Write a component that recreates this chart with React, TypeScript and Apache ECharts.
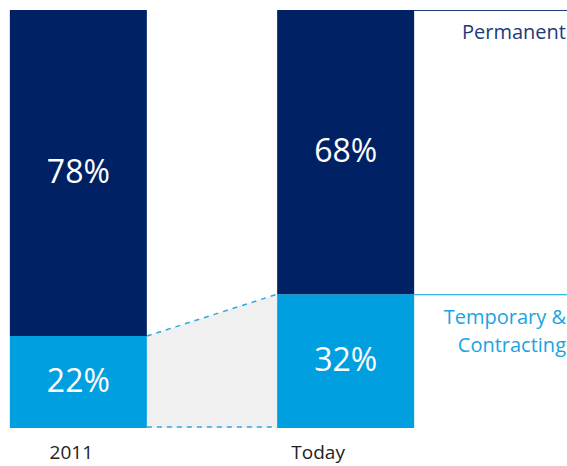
import React, { useEffect, useRef } from "react";
import * as echarts from "echarts";

const categories = ["2011", "Today"];
const temporary = [22, 32];
const permanent = [78, 68];
const seriesLabels = ["Temporary &\nContracting", "Permanent"];

const NAVY = "#002163";
const BLUE = "#009fe0";
const BAR_WIDTH = 137;
const FONT = "Open Sans";

export default function App() {
  const ref = useRef<HTMLDivElement>(null);
  useEffect(() => {
    const chart = echarts.init(ref.current!, null, { renderer: "svg" });
    const pctLabel = {
      show: true,
      position: "inside",
      formatter: "{c}%",
      color: "#fff",
      fontFamily: FONT,
      fontSize: 32,
      offset: [0, -3],
    };
    const option: any = {
      animation: false,
      grid: { left: -55.3, right: 87.7, top: 10, bottom: 38, outerBoundsMode: "none", containLabel: false },
      xAxis: {
        type: "category",
        data: categories,
        axisLine: { show: false },
        axisTick: { show: false },
        axisLabel: {
          margin: 14,
          formatter: (v: string, i: number) => (i === 0 ? `{a|${v}}` : `{b|${v}}`),
          rich: {
            a: { fontFamily: FONT, fontSize: 19, color: "#222", padding: [0, 14, 0, 0] },
            b: { fontFamily: FONT, fontSize: 19, color: "#222", padding: [0, 55, 0, 0] },
          },
        },
      },
      yAxis: { type: "value", min: 0, max: 100, show: false },
      series: [
        {
          name: seriesLabels[0],
          type: "bar",
          stack: "total",
          barWidth: BAR_WIDTH,
          data: temporary,
          itemStyle: { color: BLUE },
          label: pctLabel,
        },
        {
          name: seriesLabels[1],
          type: "bar",
          stack: "total",
          barWidth: BAR_WIDTH,
          data: permanent,
          itemStyle: { color: NAVY },
          label: pctLabel,
        },
        {
          type: "custom",
          clip: false,
          silent: true,
          data: [[0, 0]],
          encode: { x: 0, y: 1 },
          renderItem: (params: any, api: any) => {
            const half = BAR_WIDTH / 2;
            const x1r = api.coord([0, 0])[0] + half;
            const x2l = api.coord([1, 0])[0] - half;
            const x2r = api.coord([1, 0])[0] + half;
            const yb = api.coord([0, 0])[1];
            const y1 = api.coord([0, temporary[0]])[1];
            const y2 = api.coord([1, temporary[1]])[1];
            const yTop = api.coord([1, temporary[1] + permanent[1]])[1];
            const W = api.getWidth();
            return {
              type: "group",
              children: [
                {
                  type: "polygon",
                  shape: { points: [[x1r, y1], [x2l, y2], [x2l, yb], [x1r, yb]] },
                  style: { fill: "#f0f0f0" },
                },
                {
                  type: "line",
                  shape: { x1: x1r, y1: y1, x2: x2l, y2: y2 },
                  style: { stroke: "#2aa8e6", lineWidth: 1.5, lineDash: [5, 5] },
                },
                {
                  type: "line",
                  shape: { x1: x1r, y1: yb - 1, x2: x2l, y2: yb - 1 },
                  style: { stroke: "#2aa8e6", lineWidth: 1.5, lineDash: [5, 5] },
                },
                {
                  type: "line",
                  shape: { x1: x2r, y1: yTop + 0.5, x2: W, y2: yTop + 0.5 },
                  style: { stroke: "#1d3a7a", lineWidth: 1 },
                },
                {
                  type: "line",
                  shape: { x1: x2r, y1: y2 + 0.5, x2: W, y2: y2 + 0.5 },
                  style: { stroke: BLUE, lineWidth: 1 },
                },
                {
                  type: "text",
                  style: {
                    text: seriesLabels[1],
                    x: W - 1,
                    y: yTop + 21,
                    align: "right",
                    verticalAlign: "middle",
                    fill: "#1d3a7a",
                    fontFamily: FONT,
                    fontSize: 20,
                  },
                },
                {
                  type: "text",
                  style: {
                    text: seriesLabels[0],
                    x: W - 1,
                    y: y2 + 36,
                    align: "right",
                    verticalAlign: "middle",
                    fill: "#1aa3e3",
                    fontFamily: FONT,
                    fontSize: 20,
                    lineHeight: 28,
                  },
                },
              ],
            };
          },
        },
      ],
    };
    chart.setOption(option);
    return () => chart.dispose();
  }, []);
  return (
    <div
      ref={ref}
      style={{ position: "absolute", left: 0, top: 0, width: 567, height: 466 }}
    />
  );
}
